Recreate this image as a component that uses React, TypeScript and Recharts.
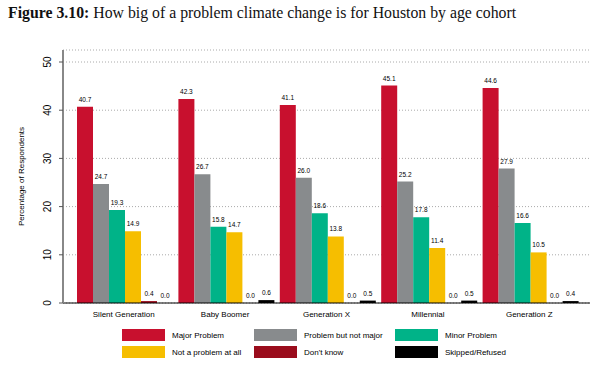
import { BarChart, Bar, XAxis, YAxis, CartesianGrid, LabelList } from "recharts";

const cohorts = ["Silent Generation", "Baby Boomer", "Generation X", "Millennial", "Generation Z"];
const majorProblem = [40.7, 42.3, 41.1, 45.1, 44.6];
const notMajor = [24.7, 26.7, 26.0, 25.2, 27.9];
const minorProblem = [19.3, 15.8, 18.6, 17.8, 16.6];
const notAProblem = [14.9, 14.7, 13.8, 11.4, 10.5];
const dontKnow = [0.4, 0.0, 0.0, 0.0, 0.0];
const skipped = [0.0, 0.6, 0.5, 0.5, 0.4];
const yTicks = [0, 10, 20, 30, 40, 50];

const series = [
  { key: "major", name: "Major Problem", color: "#C8102E", values: majorProblem },
  { key: "notMajor", name: "Problem but not major", color: "#888B8D", values: notMajor },
  { key: "minor", name: "Minor Problem", color: "#00B388", values: minorProblem },
  { key: "none", name: "Not a problem at all", color: "#F6BE00", values: notAProblem },
  { key: "dk", name: "Don't know", color: "#9A0C1C", values: dontKnow },
  { key: "skip", name: "Skipped/Refused", color: "#000000", values: skipped },
];

const data = cohorts.map((c, i) => {
  const row: Record<string, string | number> = { cohort: c };
  series.forEach((s) => (row[s.key] = s.values[i]));
  return row;
});

const font = "'Liberation Sans', Arial, sans-serif";

function YTick(props: any) {
  const { x, y, payload } = props;
  return (
    <text
      x={x - 6}
      y={y}
      transform={`rotate(-90 ${x - 6} ${y})`}
      textAnchor="middle"
      fontSize={10}
      fontFamily={font}
      fill="#000"
    >
      {payload.value}
    </text>
  );
}

// legend layout: 3 columns, 2 rows
const legendCols = [122, 254, 395];
const legendRows = [329, 346];

export default function App() {
  return (
    <div style={{ position: "absolute", left: 0, top: 0, width: 610, height: 366, background: "#fff" }}>
      <div
        style={{
          position: "absolute",
          left: 8,
          top: 4,
          fontFamily: "'Liberation Serif', 'Times New Roman', serif",
          fontSize: 15.8,
          color: "#111",
          whiteSpace: "nowrap",
        }}
      >
        <b>Figure 3.10:</b> How big of a problem climate change is for Houston by age cohort
      </div>
      <div style={{ position: "absolute", left: 0, top: 0 }}>
        <BarChart
          width={610}
          height={366}
          data={data}
          margin={{ top: 50, right: 20, left: 0, bottom: 0 }}
          barGap={0}
          barCategoryGap={4}
        >
          <CartesianGrid vertical={false} stroke="#aaa" strokeDasharray="1 2" />
          <XAxis
            dataKey="cohort"
            height={63}
            padding={{ left: 10, right: 10 }}
            tickLine={false}
            axisLine={{ stroke: "#000", strokeWidth: 1 }}
            tick={{ fontSize: 8, fontFamily: font, fill: "#000" }}
            tickMargin={2}
          />
          <YAxis
            width={63}
            domain={[0, 50]}
            ticks={yTicks}
            padding={{ top: 12, bottom: 0 }}
            axisLine={{ stroke: "#888", strokeWidth: 2 }}
            tickLine={{ stroke: "#555" }}
            tickSize={4}
            tick={<YTick />}
            label={{
              value: "Percentage of Respondents",
              angle: -90,
              position: "insideLeft",
              dx: 16,
              dy: 0,
              style: { fontSize: 8, fontFamily: font, fill: "#000", textAnchor: "middle" },
            }}
          />
          {series.map((s) => (
            <Bar
              key={s.key}
              dataKey={s.key}
              name={s.name}
              fill={s.color}
              minPointSize={(v: any) => (Number(v) === 0 ? 0.01 : 0)}
              isAnimationActive={false}
            >
              <LabelList
                dataKey={s.key}
                position="top"
                offset={5}
                formatter={(v: any) => Number(v).toFixed(1)}
                style={{ fontSize: 6.5, fontFamily: font, fill: "#000" }}
              />
            </Bar>
          ))}
        </BarChart>
      </div>
      {series.map((s, i) => {
        const col = i % 3;
        const row = Math.floor(i / 3);
        return (
          <div
            key={s.key}
            style={{
              position: "absolute",
              left: legendCols[col],
              top: legendRows[row],
              display: "flex",
              alignItems: "center",
              fontFamily: font,
              fontSize: 8,
              color: "#000",
              whiteSpace: "nowrap",
            }}
          >
            <span style={{ display: "inline-block", width: 43, height: 12, background: s.color, marginRight: 7 }} />
            {s.name}
          </div>
        );
      })}
    </div>
  );
}
